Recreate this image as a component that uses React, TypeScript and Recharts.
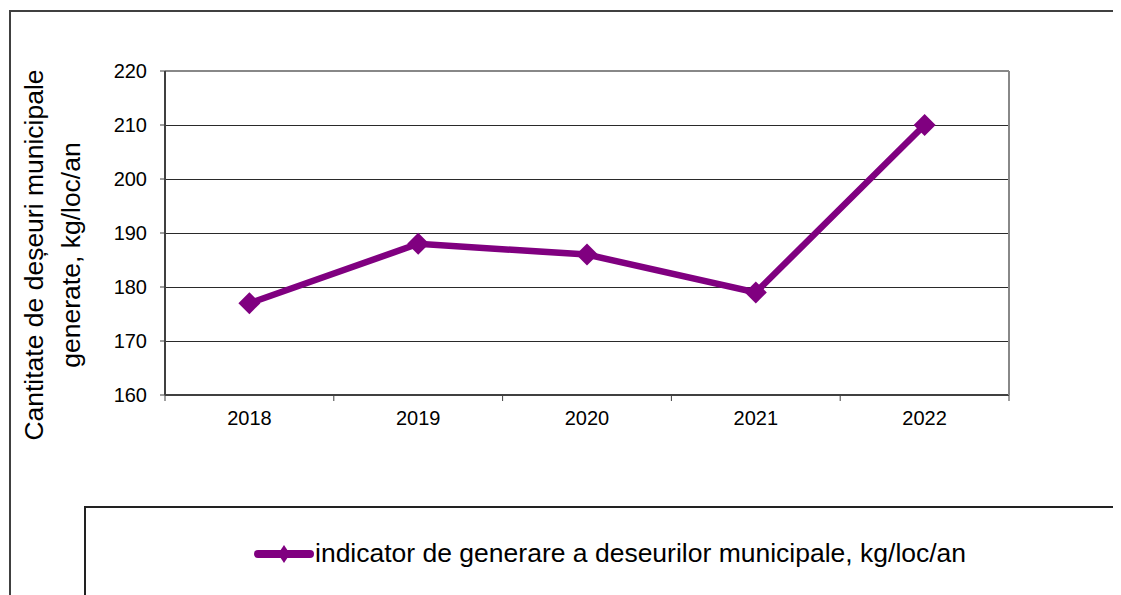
import React from "react";
import {
  LineChart,
  Line,
  XAxis,
  YAxis,
  CartesianGrid,
  Legend,
  ReferenceLine,
} from "recharts";

const years = ["2018", "2019", "2020", "2021", "2022"];
const indicator = [177, 188, 186, 179, 210];
const yTicks = [160, 170, 180, 190, 200, 210, 220];
const seriesName = "indicator de generare a deseurilor municipale, kg/loc/an";
const yLabelLines = ["Cantitate de deșeuri municipale", "generate, kg/loc/an"];

const data = years.map((year, i) => ({ year, value: indicator[i] }));

const W = 1113;
const H = 587;
const margin = { top: 63, right: 111, bottom: 170, left: 97 };
const plotWidth = W - margin.left - margin.right - 60 - 1;
const half = plotWidth / years.length / 2;
const PURPLE = "#800080";
const FONT = "'Liberation Sans', Arial, sans-serif";

const Diamond = (props: any) => {
  const { cx, cy } = props;
  if (cx == null || cy == null) return null;
  const r = 11;
  return (
    <polygon
      points={`${cx},${cy - r} ${cx + r},${cy} ${cx},${cy + r} ${cx - r},${cy}`}
      fill={PURPLE}
    />
  );
};

const YearTick = (props: any) => {
  const { x, y, payload, index } = props;
  const last = index === years.length - 1;
  return (
    <g>
      <line x1={x - half} y1={y} x2={x - half} y2={y + 6} stroke="#404040" strokeWidth={1} />
      {last && <line x1={x + half} y1={y} x2={x + half} y2={y + 6} stroke="#404040" strokeWidth={1} />}
      <text x={x} y={y + 30} textAnchor="middle" fontSize={20} fill="#000" fontFamily={FONT}>
        {payload.value}
      </text>
    </g>
  );
};

const YLabel = () => {
  const cy = 247;
  const xs = [26, 63];
  return (
    <g>
      {yLabelLines.map((t, i) => (
        <text
          key={i}
          x={xs[i]}
          y={cy}
          transform={`rotate(-90, ${xs[i]}, ${cy})`}
          textAnchor="middle"
          dominantBaseline="central"
          fontSize={26.5}
          fill="#000"
          fontFamily={FONT}
        >
          {t}
        </text>
      ))}
    </g>
  );
};

const LegendBox = () => (
  <div
    style={{
      width: "100%",
      height: "100%",
      boxSizing: "border-box",
      border: "2px solid #222",
      background: "#fff",
      position: "relative",
      fontFamily: FONT,
    }}
  >
    <div style={{ position: "absolute", left: 167, top: 30, display: "flex", alignItems: "center" }}>
      <svg width={62} height={26}>
        <line x1={5} y1={13} x2={57} y2={13} stroke={PURPLE} strokeWidth={8} strokeLinecap="round" />
        <polygon points="31,4 37,13 31,22 25,13" fill={PURPLE} />
      </svg>
      <span style={{ fontSize: 26.5, color: "#000", whiteSpace: "nowrap" }}>{seriesName}</span>
    </div>
  </div>
);

export default function App() {
  return (
    <div style={{ position: "relative", width: W, height: H, overflow: "hidden", background: "#fff" }}>
      <div
        style={{
          position: "absolute",
          left: 1,
          top: 2,
          width: W + 20,
          height: H + 20,
          borderTop: "2px solid #404040",
          borderLeft: "2px solid #404040",
        }}
      />
      <LineChart
        width={W}
        height={H}
        data={data}
        margin={margin}
        style={{ position: "absolute", left: 0, top: 0 }}
      >
        <CartesianGrid
          vertical={false}
          stroke="#2a2a2a"
          strokeWidth={1}
          yAxisId="left"
          shapeRendering="crispEdges"
        />
        <XAxis
          dataKey="year"
          padding={{ left: half, right: half }}
          tickLine={false}
          tickSize={0}
          tickMargin={0}
          interval={0}
          axisLine={{ stroke: "#404040", strokeWidth: 2 }}
          tick={<YearTick />}
        />
        <YAxis
          yAxisId="left"
          width={60}
          domain={[160, 220]}
          ticks={yTicks}
          interval={0}
          tickSize={5}
          tickMargin={13}
          tickLine={{ stroke: "#404040" }}
          axisLine={{ stroke: "#404040", strokeWidth: 2 }}
          tick={{ fontSize: 20, fill: "#000", fontFamily: FONT }}
          label={{ content: <YLabel /> }}
        />
        <YAxis
          yAxisId="right"
          orientation="right"
          width={1}
          domain={[160, 220]}
          tick={false}
          tickLine={false}
          axisLine={{ stroke: "#888", strokeWidth: 2 }}
        />
        <ReferenceLine yAxisId="left" y={220} stroke="#888" strokeWidth={2} />
        <Line
          yAxisId="left"
          type="linear"
          dataKey="value"
          name={seriesName}
          stroke={PURPLE}
          strokeWidth={6.5}
          dot={<Diamond />}
          activeDot={false}
          isAnimationActive={false}
        />
        <Legend
          layout="horizontal"
          verticalAlign="middle"
          align="center"
          content={<LegendBox />}
          wrapperStyle={{ position: "absolute", left: 76, top: 498, width: 1100, height: 200 }}
        />
      </LineChart>
    </div>
  );
}
